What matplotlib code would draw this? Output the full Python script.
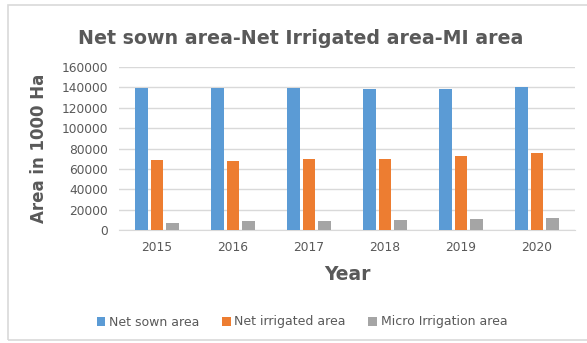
import matplotlib.pyplot as plt
import matplotlib.patches as mpatches
import numpy as np

years = ['2015', '2016', '2017', '2018', '2019', '2020']
net_sown = [139500, 139000, 139000, 138800, 138300, 140000]
net_irrigated = [68600, 67300, 69300, 70000, 72600, 75200]
micro_irrigation = [6900, 8600, 8900, 9600, 10600, 11900]

series = [('Net sown area', net_sown, '#5B9BD5'),
          ('Net irrigated area', net_irrigated, '#ED7D31'),
          ('Micro Irrigation area', micro_irrigation, '#A5A5A5')]

text_color = '#595959'

fig = plt.figure(figsize=(5.87, 3.43), dpi=100)
fig.patch.set_facecolor('white')

# light frame around the chart
fig.patches.append(mpatches.Rectangle((8 / 587, 3 / 343), 1.0, 335 / 343,
                                      transform=fig.transFigure, fill=False,
                                      edgecolor='#D9D9D9', linewidth=1.2))

ax = fig.add_axes([119 / 587, 1 - 230 / 343, 456 / 587, 163 / 343])

x = np.arange(len(years))
width = 0.171
step = 0.21
for i, (label, vals, color) in enumerate(series):
    ax.bar(x + (i - 1) * step, vals, width, color=color, label=label, zorder=3)

ax.set_xlim(-0.5, len(years) - 0.5)
ax.set_ylim(0, 160000)
ax.set_yticks(range(0, 160001, 20000))
ax.set_xticks(x)
ax.set_xticklabels(years)
ax.tick_params(axis='both', length=0, colors=text_color, labelsize=8.8)
ax.tick_params(axis='x', pad=8)
ax.tick_params(axis='y', pad=8)
ax.grid(axis='y', color='#D9D9D9', linewidth=1, zorder=0)
for s in ax.spines.values():
    s.set_visible(False)
ax.spines['bottom'].set_visible(True)
ax.spines['bottom'].set_color('#D9D9D9')

ax.set_xlabel('Year', fontsize=13.5, fontweight='bold', color=text_color, labelpad=8)
ax.set_ylabel('Area in 1000 Ha', fontsize=12, fontweight='bold', color=text_color, labelpad=10)

fig.text(301 / 587, 1 - 38 / 343, 'Net sown area-Net Irrigated area-MI area',
         ha='center', va='center', fontsize=13.7, fontweight='bold', color=text_color)

fig.legend(loc='center', bbox_to_anchor=(302 / 587, 1 - 322 / 343), ncol=3,
           frameon=False, fontsize=9, labelcolor=text_color,
           handlelength=0.7, handleheight=0.7, handletextpad=0.3, columnspacing=1.8)

fig.savefig('out.png', dpi=100)
